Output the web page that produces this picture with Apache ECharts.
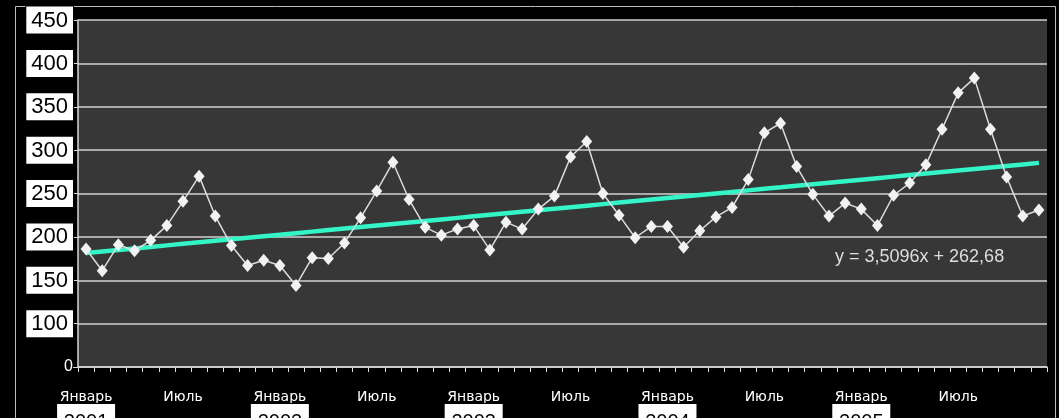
<!DOCTYPE html>
<html>
<head>
<meta charset="utf-8">
<style>
  html, body { margin: 0; padding: 0; background: #000; }
  #chart { width: 1059px; height: 418px; }
</style>
<script src="https://cdn.jsdelivr.net/npm/echarts@6/dist/echarts.min.js"></script>
</head>
<body>
<div id="chart"></div>
<script>
// Monthly values, January of the first year through December of the fifth year
const monthNames = ['Январь', '', '', '', '', '', 'Июль', '', '', '', '', ''];
const years = ['2001', '2002', '2003', '2004', '2005'];
const values = [
  186, 161, 191, 184, 196, 213, 241, 270, 224, 190, 167, 173,
  167, 144, 176, 175, 193, 222, 253, 286, 243, 211, 202, 209,
  213, 185, 217, 209, 232, 247, 292, 310, 250, 225, 199, 212,
  212, 188, 207, 223, 234, 266, 320, 331, 281, 249, 224, 239,
  232, 213, 248, 262, 283, 324, 366, 383, 324, 269, 224, 231
];
// Value axis ticks and the text shown at each
const yTickValues = [50, 100, 150, 200, 250, 300, 350, 400, 450];
const yTickLabels = ['0', '100', '150', '200', '250', '300', '350', '400', '450'];
const equationText = 'y = 3,5096x + 262,68';

// Category list: one entry per month
const categories = [];
years.forEach(function (yr) {
  monthNames.forEach(function (m, k) {
    categories.push({ month: m, year: k === 0 ? yr : '' });
  });
});

// Least-squares linear trend through the monthly values
const n = values.length;
let sx = 0, sy = 0, sxx = 0, sxy = 0;
values.forEach(function (v, i) { sx += i; sy += v; sxx += i * i; sxy += i * v; });
const slope = (n * sxy - sx * sy) / (n * sxx - sx * sx);
const icpt = (sy - slope * sx) / n;
const trend = values.map(function (_, i) { return +(icpt + slope * i).toFixed(2); });

const chart = echarts.init(document.getElementById('chart'));
chart.setOption({
  backgroundColor: '#000',
  animation: false,
  grid: {
    left: 78, right: 12, top: 20, bottom: 51,
    containLabel: false, outerBoundsMode: 'none',
    show: true, backgroundColor: '#373737', borderWidth: 0
  },
  graphic: [
    {
      type: 'rect', silent: true, z: 0,
      shape: { x: 15.5, y: 6.5, width: 1040, height: 420 },
      style: { fill: 'none', stroke: '#bdbdbd', lineWidth: 1 }
    },
    {
      type: 'text', z: 100,
      left: 835, top: 248,
      style: {
        text: equationText, fill: '#dedede',
        font: '18px "Liberation Sans", Arial, sans-serif'
      }
    }
  ],
  xAxis: {
    type: 'category',
    data: categories.map(function (c, i) { return String(i); }),
    boundaryGap: true,
    axisLine: { lineStyle: { color: '#d8d8d8', width: 1.5 } },
    axisTick: { show: true, length: 5, interval: 0, lineStyle: { color: '#d8d8d8' } },
    splitLine: { show: false },
    axisLabel: {
      interval: 0,
      margin: 19,
      lineHeight: 22,
      formatter: function (val) {
        const c = categories[+val];
        if (!c.month) return '';
        return c.year ? '{m|' + c.month + '}\n{yr|' + c.year + '}' : '{m|' + c.month + '}';
      },
      rich: {
        m: { color: '#ffffff', fontSize: 14, fontFamily: '"DejaVu Sans", sans-serif', lineHeight: 22 },
        yr: {
          color: '#000', fontSize: 20, fontFamily: '"Liberation Sans", Arial, sans-serif',
          backgroundColor: '#fff', borderColor: '#000', borderWidth: 1,
          width: 50, align: 'center', padding: [8, 4, 4, 4], lineHeight: 24
        }
      }
    }
  },
  yAxis: {
    type: 'value',
    min: 50, max: 450, interval: 50,
    axisLine: { show: true, lineStyle: { color: '#d8d8d8', width: 1.5 } },
    axisTick: { show: true, length: 5, lineStyle: { color: '#d8d8d8' } },
    splitLine: { show: true, lineStyle: { color: '#d2d2d2', width: 1.5 } },
    axisLabel: {
      margin: 5,
      formatter: function (v) {
        const k = yTickValues.indexOf(v);
        const t = k >= 0 ? yTickLabels[k] : '';
        return k === 0 ? '{z|' + t + '}' : '{b|' + t + '}';
      },
      rich: {
        b: {
          color: '#000', fontSize: 22, fontFamily: '"Liberation Sans", Arial, sans-serif',
          backgroundColor: '#fff', borderColor: '#000', borderWidth: 1,
          padding: [3, 5, 2, 5]
        },
        z: { color: '#fff', fontSize: 16, fontFamily: '"Liberation Sans", Arial, sans-serif' }
      }
    }
  },
  series: [
    {
      name: 'values',
      type: 'line',
      data: values,
      symbol: 'diamond',
      symbolSize: [11, 13],
      itemStyle: { color: '#f2f2f2' },
      lineStyle: { color: '#dcdcdc', width: 1.5 },
      z: 3
    },
    {
      name: 'trend',
      type: 'line',
      data: trend,
      symbol: 'none',
      lineStyle: { color: '#33f5c8', width: 4.5 },
      z: 2
    }
  ]
});
</script>
</body>
</html>
